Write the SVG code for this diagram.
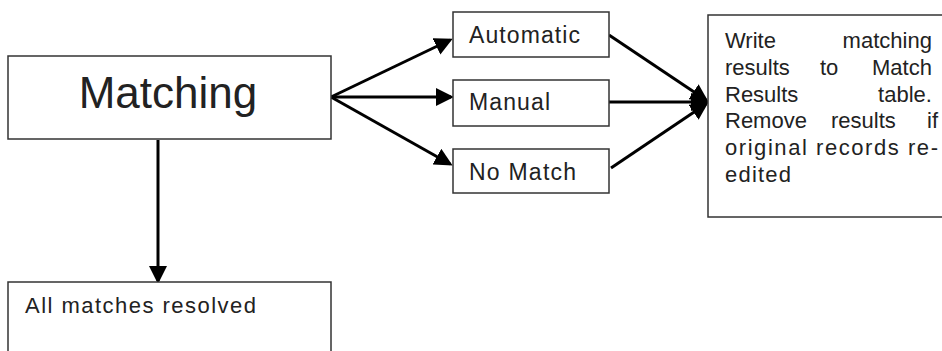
<svg xmlns="http://www.w3.org/2000/svg" width="942" height="351" viewBox="0 0 942 351">
<style>
.box{fill:#fff;stroke:#333;stroke-width:1.5}
.t{font-family:"Liberation Sans",Arial,sans-serif;fill:#222}
.c{stroke:#000;stroke-width:3;fill:none}
</style>
<defs>
<marker id="ah" markerWidth="6" markerHeight="6" refX="5" refY="3" orient="auto" markerUnits="strokeWidth">
<path d="M0,0 L6,3 L0,6 Z" fill="#000"/>
</marker>
</defs>
<rect width="942" height="351" fill="#fff"/>
<g id="connectors">
<line class="c" x1="331" y1="97" x2="450" y2="40" marker-end="url(#ah)"/>
<line class="c" x1="331" y1="97" x2="451" y2="97" marker-end="url(#ah)"/>
<line class="c" x1="331" y1="97" x2="450" y2="164" marker-end="url(#ah)"/>
<line class="c" x1="609" y1="35" x2="706" y2="100" marker-end="url(#ah)"/>
<line class="c" x1="609" y1="102" x2="706" y2="102" marker-end="url(#ah)"/>
<line class="c" x1="611" y1="168" x2="706" y2="104" marker-end="url(#ah)"/>
<line class="c" x1="158" y1="140" x2="158" y2="281" marker-end="url(#ah)"/>
</g>
<g id="matching">
<rect class="box" x="8" y="56" width="323" height="83"/>
<text class="t" x="168" y="108" font-size="44" text-anchor="middle">Matching</text>
</g>
<g id="automatic">
<rect class="box" x="453" y="12" width="156" height="45"/>
<text class="t" x="469" y="43" font-size="23" textLength="111" lengthAdjust="spacing">Automatic</text>
</g>
<g id="manual">
<rect class="box" x="453" y="80" width="156" height="46"/>
<text class="t" x="469" y="110" font-size="23" textLength="81" lengthAdjust="spacing">Manual</text>
</g>
<g id="nomatch">
<rect class="box" x="453" y="149" width="156" height="44"/>
<text class="t" x="469" y="180" font-size="23" textLength="107" lengthAdjust="spacing">No Match</text>
</g>
<g id="write">
<rect class="box" x="708" y="15" width="240" height="202"/>
<text class="t" font-size="22">
<tspan x="725" y="48">Write</tspan><tspan x="938" y="48" text-anchor="end">matching</tspan>
<tspan x="725" y="75">results</tspan><tspan x="820" y="75">to</tspan><tspan x="938" y="75" text-anchor="end">Match</tspan>
<tspan x="725" y="102">Results</tspan><tspan x="938" y="102" text-anchor="end">table.</tspan>
<tspan x="725" y="128">Remove</tspan><tspan x="831" y="128">results</tspan><tspan x="938" y="128" text-anchor="end">if</tspan>
</text>
<text class="t" font-size="22" x="725" y="155" textLength="213" lengthAdjust="spacing">original records re-</text>
<text class="t" font-size="22" x="725" y="182" textLength="66" lengthAdjust="spacing">edited</text>
</g>
<g id="resolved">
<rect class="box" x="8" y="282" width="323" height="80"/>
<text class="t" x="25" y="313" font-size="22" textLength="231" lengthAdjust="spacing">All matches resolved</text>
</g>
</svg>
